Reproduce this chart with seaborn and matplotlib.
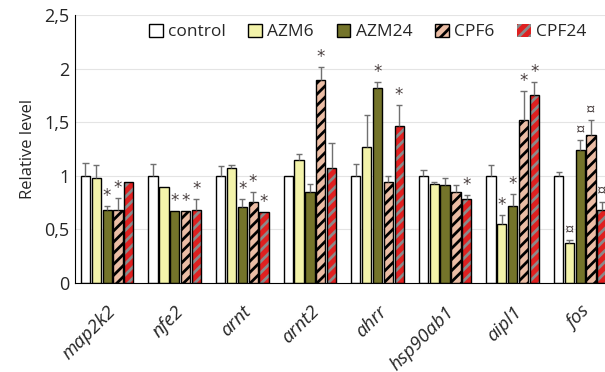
import matplotlib.pyplot as plt
import matplotlib.patches as mpatches
import numpy as np
import pandas as pd
import seaborn as sns

# Data
genes = ['map2k2', 'nfe2', 'arnt', 'arnt2', 'ahrr', 'hsp90ab1', 'aipl1', 'fos']
treatments = ['control', 'AZM6', 'AZM24', 'CPF6', 'CPF24']

control = [1.00, 1.00, 1.00, 1.00, 1.00, 1.00, 1.00, 1.00]
azm6 = [0.98, 0.90, 1.07, 1.15, 1.265, 0.92, 0.555, 0.375]
azm24 = [0.685, 0.67, 0.71, 0.85, 1.82, 0.915, 0.72, 1.24]
cpf6 = [0.68, 0.67, 0.76, 1.895, 0.94, 0.85, 1.52, 1.38]
cpf24 = [0.94, 0.685, 0.66, 1.07, 1.46, 0.785, 1.755, 0.685]

control_err = [0.12, 0.11, 0.09, 0.0, 0.11, 0.056, 0.10, 0.04]
azm6_err = [0.12, 0.0, 0.03, 0.05, 0.30, 0.025, 0.08, 0.025]
azm24_err = [0.035, 0.0, 0.07, 0.07, 0.05, 0.065, 0.11, 0.09]
cpf6_err = [0.11, 0.0, 0.09, 0.115, 0.06, 0.06, 0.27, 0.14]
cpf24_err = [0.0, 0.095, 0.0, 0.24, 0.20, 0.035, 0.115, 0.075]

azm6_sig = ['', '', '', '', '', '', '*', '¤']
azm24_sig = ['*', '*', '*', '', '*', '', '*', '¤']
cpf6_sig = ['*', '*', '*', '*', '', '', '*', '¤']
cpf24_sig = ['', '*', '*', '', '*', '*', '*', '¤']
control_sig = [''] * 8

values = [control, azm6, azm24, cpf6, cpf24]
errs = [control_err, azm6_err, azm24_err, cpf6_err, cpf24_err]
sigs = [control_sig, azm6_sig, azm24_sig, cpf6_sig, cpf24_sig]
colors = ['#ffffff', '#ffff9e', '#80801e', '#f7b999', '#ff0000']

rows = []
for t, vals in zip(treatments, values):
    for g, v in zip(genes, vals):
        rows.append({'gene': g, 'treatment': t, 'value': v})
df = pd.DataFrame(rows)

sns.set_style('white')
plt.rcParams['font.family'] = ['Open Sans', 'DejaVu Sans']
plt.rcParams['hatch.linewidth'] = 2.0

fig = plt.figure(figsize=(6.05, 3.72), dpi=100)
ax = fig.add_axes([0.124, 0.239, 0.891, 0.721])

sns.barplot(data=df, x='gene', y='value', hue='treatment', palette=colors,
            width=0.8, gap=0.15, edgecolor='black', linewidth=1,
            errorbar=None, legend=False, ax=ax)

# hatching
for p in ax.containers[3].patches:
    p.set_hatch('///')
for p in ax.containers[4].patches:
    p.set_hatch('///')
    p.set_edgecolor('#8a8a8a')
    p.set_linewidth(0)
    ax.add_patch(mpatches.Rectangle((p.get_x(), p.get_y()), p.get_width(), p.get_height(),
                                    fill=False, edgecolor='black', linewidth=1, zorder=p.get_zorder() + 0.1))

# error bars (upper only) and significance marks
for c, err, sig in zip(ax.containers, errs, sigs):
    for p, e, s in zip(c.patches, err, sig):
        xc = p.get_x() + p.get_width() / 2
        top = p.get_height()
        if e > 0:
            ax.vlines(xc, top, top + e, color='#707070', lw=1, zorder=3)
            ax.hlines(top + e, xc - 0.045, xc + 0.045, color='#707070', lw=1, zorder=3)
        if s:
            ax.text(xc, top + e + 0.01, s, ha='center', va='bottom',
                    fontsize=12 if s == '*' else 12, color='#4a4040',
                    family=['DejaVu Sans'] if s == '*' else None)

ax.set_xlim(-0.475, 7.5)
ax.set_ylim(0, 2.5)
ax.set_yticks([0, 0.5, 1, 1.5, 2, 2.5])
ax.set_yticklabels(['0', '0,5', '1', '1,5', '2', '2,5'], fontsize=13)
ax.set_xticks(range(len(genes)))
ax.set_xticklabels(genes, rotation=45, ha='right', rotation_mode='anchor',
                   fontsize=13.5, style='italic')
ax.set_xlabel('')
ax.set_ylabel('Relative level', fontsize=12, labelpad=6)
ax.yaxis.grid(True, color='#e4e4e4', lw=0.8)
ax.set_axisbelow(True)
ax.tick_params(length=0)
ax.tick_params(axis='x', pad=14)
ax.tick_params(axis='y', pad=4)
for sp in ['top', 'right']:
    ax.spines[sp].set_visible(False)
ax.spines['left'].set_color('black')
ax.spines['bottom'].set_color('black')

handles = [c.patches[0] for c in ax.containers]
ax.legend(handles, treatments, ncol=5, frameon=False, fontsize=12.5,
          loc='center right', bbox_to_anchor=(0.995, 0.914), bbox_transform=fig.transFigure,
          handlelength=0.8, handleheight=0.8, handletextpad=0.3, columnspacing=1.3)

plt.savefig('out.png', dpi=100)
